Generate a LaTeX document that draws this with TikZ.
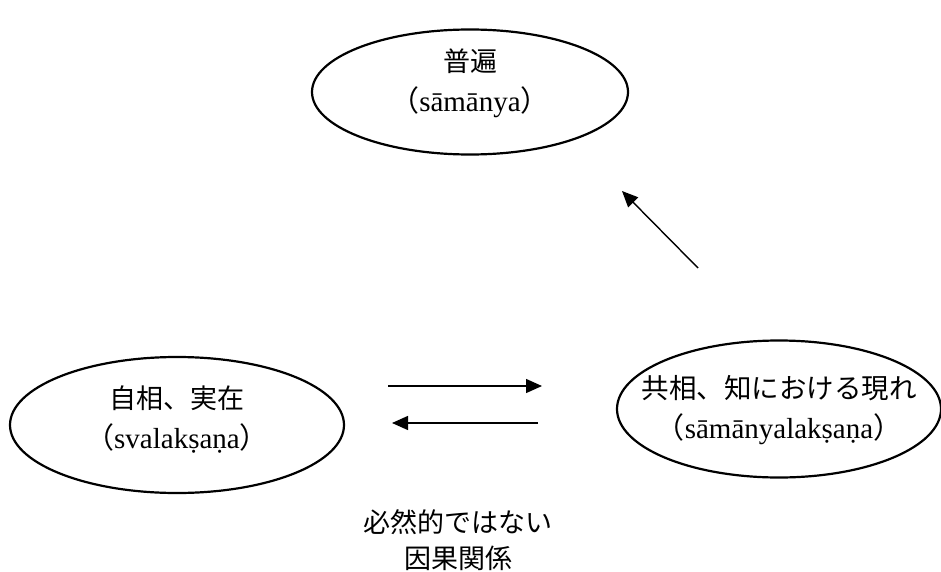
\documentclass[tikz,border=0pt]{standalone}
\usepackage{fontspec}
\setmainfont{Liberation Serif}
\newfontfamily\jp{Noto Sans CJK JP}
\usetikzlibrary{arrows.meta,shapes.geometric}
\begin{document}
\begin{tikzpicture}[x=1pt,y=-1pt,
  ell/.style={draw, ellipse, line width=2.2pt, inner sep=0pt},
  lbl/.style={align=center, inner sep=0pt, font=\fontsize{29}{40}\selectfont},
  arr/.style={line width=1.4pt, -{Triangle[length=16pt,width=14pt]}}]
\useasboundingbox (0,0) rectangle (941,572);
\node[ell, minimum width=316pt, minimum height=125pt] (top) at (470,92) {};
\node[ell, minimum width=334pt, minimum height=136pt] (left) at (177,425) {};
\node[ell, minimum width=324pt, minimum height=137pt] (right) at (779,409) {};
\node[lbl] (toptext) at (470,83) {{\jp\fontsize{27}{40}\selectfont 普遍}\\{\jp （}sāmānya{\jp ）}};
\node[lbl] (lefttext) at (177,420) {{\jp\fontsize{27}{40}\selectfont 自相、実在}\\{\jp （}svalakṣaṇa{\jp ）}};
\node[lbl] (righttext) at (779,410) {{\jp\fontsize{27.5}{40}\selectfont 共相、知における現れ}\\{\jp （}sāmānyalakṣaṇa{\jp ）}};
\node[lbl, font=\fontsize{27}{36}\selectfont] (cause) at (458,540) {{\jp 必然的ではない}\\{\jp 因果関係}};
\coordinate (a1s) at (388,386); \coordinate (a1e) at (542,386);
\coordinate (a2s) at (538,423); \coordinate (a2e) at (392,423);
\coordinate (a3s) at (698,268); \coordinate (a3e) at (622,191);
\draw[arr] (a1s) -- (a1e);
\draw[arr] (a2s) -- (a2e);
\draw[arr] (a3s) -- (a3e);
\end{tikzpicture}
\end{document}
